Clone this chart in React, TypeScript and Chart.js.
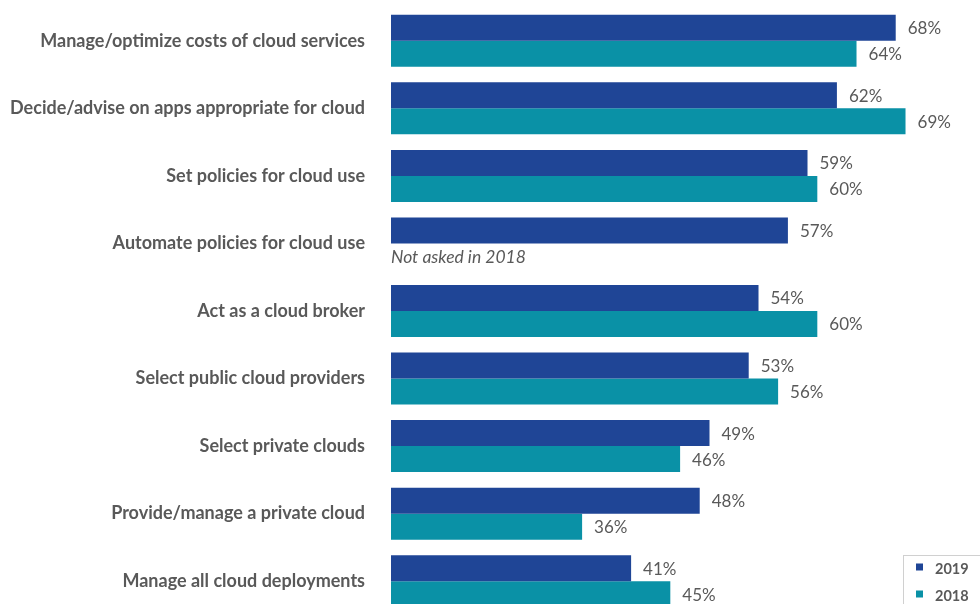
import React, { useEffect, useRef } from "react";
import { Chart, registerables } from "chart.js";

Chart.register(...registerables);

const categories = [
  "Manage/optimize costs of cloud services",
  "Decide/advise on apps appropriate for cloud",
  "Set policies for cloud use",
  "Automate policies for cloud use",
  "Act as a cloud broker",
  "Select public cloud providers",
  "Select private clouds",
  "Provide/manage a private cloud",
  "Manage all cloud deployments",
];
const values2019: (number | null)[] = [68, 62, 59, 57, 54, 53, 49, 48, 41];
const values2018: (number | null)[] = [64, 69, 60, null, 60, 56, 46, 36, 45];
const seriesNames = ["2019", "2018"];
const seriesColors = ["#1f4596", "#0a91a6"];
const notAskedNote = "Not asked in 2018";

const TEXT = "#595959";
const FONT = "Lato, 'Open Sans', sans-serif";

const labelPlugin = {
  id: "valueLabels",
  afterDatasetsDraw(chart: any) {
    const ctx = chart.ctx;
    ctx.save();
    ctx.textBaseline = "middle";
    ctx.textAlign = "left";
    chart.data.datasets.forEach((ds: any, di: number) => {
      const meta = chart.getDatasetMeta(di);
      meta.data.forEach((el: any, i: number) => {
        const v = ds.data[i];
        if (v === null || v === undefined) {
          const ref = chart.getDatasetMeta(0).data[i];
          let y = el.y;
          if (!isFinite(y)) y = ref.y + ref.height;
          ctx.font = `italic 17.5px ${FONT}`;
          ctx.fillStyle = TEXT;
          ctx.fillText(notAskedNote, chart.chartArea.left, y + 1);
          return;
        }
        ctx.font = `17px ${FONT}`;
        ctx.fillStyle = TEXT;
        ctx.fillText(`${v}%`, el.x + 12, el.y + 1);
      });
    });
    ctx.restore();
  },
  afterDraw(chart: any) {
    const ctx = chart.ctx;
    ctx.save();
    const bx = 903.5;
    const by = 555.5;
    ctx.strokeStyle = "#d0d0d0";
    ctx.lineWidth = 1;
    ctx.strokeRect(bx, by, 90, 70);
    chart.data.datasets.forEach((ds: any, di: number) => {
      const cy = 567 + di * 27;
      ctx.fillStyle = ds.backgroundColor;
      ctx.fillRect(916, cy - 3.5, 7, 7);
      ctx.font = `bold 14.5px ${FONT}`;
      ctx.fillStyle = TEXT;
      ctx.textBaseline = "middle";
      ctx.textAlign = "left";
      ctx.fillText(ds.label, 935, cy + 2);
    });
    ctx.restore();
  },
};

export default function App() {
  const ref = useRef<HTMLCanvasElement | null>(null);
  useEffect(() => {
    document.body.style.margin = "0";
    const chart = new Chart(ref.current as HTMLCanvasElement, {
      type: "bar",
      data: {
        labels: categories,
        datasets: [
          { label: seriesNames[0], data: values2019, backgroundColor: seriesColors[0] },
          { label: seriesNames[1], data: values2018, backgroundColor: seriesColors[1] },
        ],
      },
      options: {
        indexAxis: "y",
        responsive: false,
        animation: false,
        layout: { padding: { top: 7, right: 0, bottom: 0, left: 0 } },
        datasets: { bar: { categoryPercentage: 0.77, barPercentage: 1.0 } },
        plugins: { legend: { display: false }, tooltip: { enabled: false } },
        scales: {
          x: { display: false, min: 16.5, max: 76.6 },
          y: {
            grid: { display: false, drawTicks: false },
            border: { display: false },
            ticks: {
              padding: 26,
              color: TEXT,
              font: { family: FONT, size: 18, weight: "bold" },
            },
            afterFit: (scale: any) => {
              scale.width = 391;
              scale.paddingTop = 0;
              scale.paddingBottom = 0;
            },
          },
        },
      } as any,
      plugins: [labelPlugin],
    });
    return () => chart.destroy();
  }, []);
  return (
    <div style={{ position: "fixed", left: 0, top: 0, width: 980, height: 604, overflow: "hidden", background: "#fff" }}>
      <canvas ref={ref} width={980} height={615} style={{ width: 980, height: 615, display: "block" }} />
    </div>
  );
}
